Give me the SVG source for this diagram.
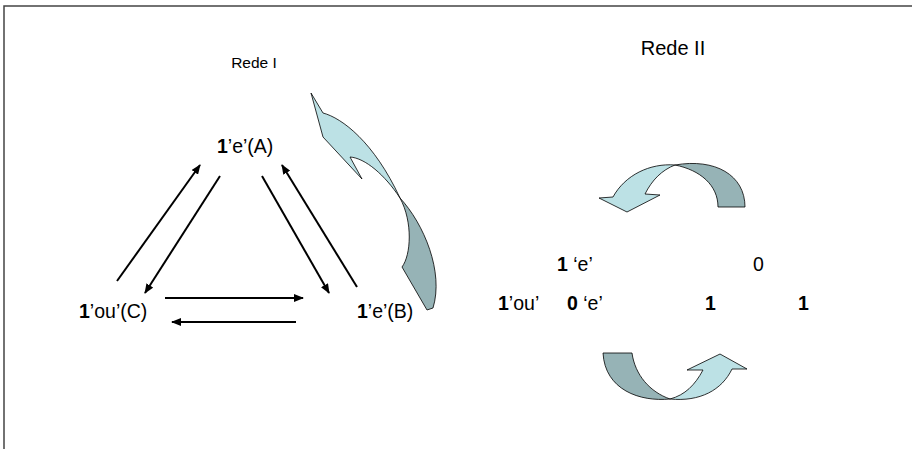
<svg xmlns="http://www.w3.org/2000/svg" width="912" height="449" viewBox="0 0 912 449">
<style>
text{font-family:"Liberation Sans",Arial,sans-serif;font-size:19.5px;fill:#000}
.t1{font-size:15.5px}
.t2{font-size:20px}
.b{font-weight:bold}
.ln{stroke:#000;stroke-width:2;fill:none;marker-end:url(#ah)}
.lt{fill:#bce1e5;stroke:#000;stroke-width:0.8}
.dk{fill:#96b3b6;stroke:#000;stroke-width:0.8}
</style>
<defs>
<marker id="ah" viewBox="0 0 10 8" refX="9" refY="4" markerWidth="5" markerHeight="4" orient="auto" markerUnits="strokeWidth">
<path d="M0,0 L10,4 L0,8 Z" fill="#000"/>
</marker>
</defs>
<rect width="912" height="449" fill="#fff"/>
<path d="M4,449 V6 H912" fill="none" stroke="#444" stroke-width="1.5"/>
<text class="t1" x="254" y="68" text-anchor="middle">Rede I</text>
<text class="t2" x="673" y="55" text-anchor="middle">Rede II</text>
<g id="nodeA"><text x="217" y="153"><tspan class="b">1</tspan>’e’(A)</text></g>
<g id="nodeB"><text x="357" y="318"><tspan class="b">1</tspan>’e’(B)</text></g>
<g id="nodeC"><text x="79" y="318"><tspan class="b">1</tspan>’ou’(C)</text></g>
<g id="connectors">
<line class="ln" x1="117" y1="281" x2="200" y2="165"/>
<line class="ln" x1="220" y1="176" x2="145" y2="293"/>
<line class="ln" x1="262" y1="176" x2="329" y2="293"/>
<line class="ln" x1="357" y1="287" x2="282" y2="165"/>
<line class="ln" x1="165" y1="298" x2="303" y2="298"/>
<line class="ln" x1="296" y1="322" x2="172" y2="322"/>
</g>
<g id="curvedArrowI">
<path class="lt" d="M311,93 L323,113 C342,118 374,142 400,198 C385,175 365,158 350,157 L362,179 L323,137 Z"/>
<path class="dk" d="M400,198 C424,224 444,272 433,308 L427,310 L402,267 C411,255 413,222 400,198 Z"/>
</g>
<g id="rede2">
<text x="557" y="271"><tspan class="b">1</tspan> ‘e’</text>
<text x="753" y="271">0</text>
<text x="498" y="310"><tspan class="b">1</tspan>’ou’</text>
<text x="567" y="310"><tspan class="b">0</tspan> ‘e’</text>
<text class="b" x="705" y="310">1</text>
<text class="b" x="798" y="310">1</text>
</g>
<g id="arrowTop">
<path class="dk" d="M675,165 C715,158 745,175 745,207 L718,207 C718,185 700,170 675,165 Z"/>
<path class="lt" d="M675,165 C650,163 625,175 613,197 L599,198 L627,212 L660,195 L645,194 C652,180 662,170 675,165 Z"/>
</g>
<g id="arrowBottom">
<path class="dk" d="M603,353 L632,353 C635,375 650,392 670,399 C640,402 605,390 603,353 Z"/>
<path class="lt" d="M670,399 C700,402 722,390 732,369 L747,369 L720,354 L687,370 L703,370 C695,385 685,395 670,399 Z"/>
</g>
</svg>
